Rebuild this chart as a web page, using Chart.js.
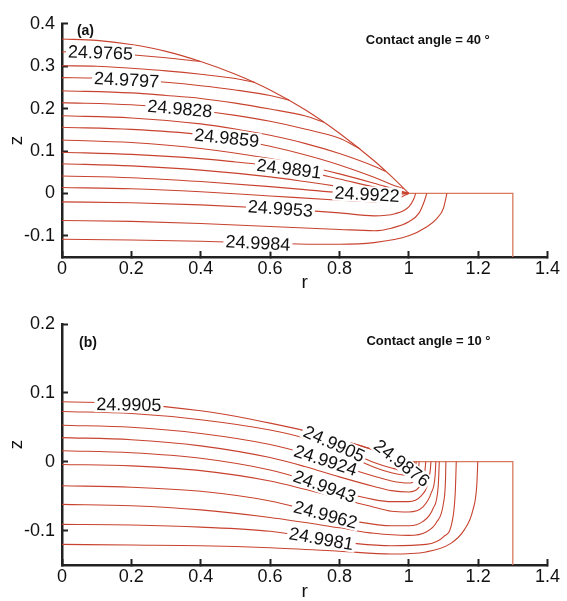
<!DOCTYPE html>
<html>
<head>
<meta charset="utf-8">
<script src="https://cdn.jsdelivr.net/npm/chart.js@4/dist/chart.umd.min.js"></script>
<style>
  html, body { margin: 0; padding: 0; background: #fff; }
  #wrap { position: relative; width: 567px; height: 601px; }
  canvas { position: absolute; left: 0; }
  #ca { top: 0; }
  #cb { top: 300px; }
</style>
</head>
<body>
<div id="wrap">
  <canvas id="ca" width="567" height="300" style="width:567px;height:300px"></canvas>
  <canvas id="cb" width="567" height="301" style="width:567px;height:301px"></canvas>
</div>
<script>
// ---------- axis ticks ----------
const xTicks  = [0, 0.2, 0.4, 0.6, 0.8, 1, 1.2, 1.4];
const yTicksA = [-0.1, 0, 0.1, 0.2, 0.3, 0.4];
const yTicksB = [-0.1, 0, 0.1, 0.2];

// ---------- (a) contact angle 40 deg : [r, z] ----------
const surfaceA   = [[0,0.364],[0.1,0.361],[0.2,0.351],[0.3,0.335],[0.4,0.311],[0.5,0.281],[0.6,0.244],[0.7,0.198],[0.8,0.142],[0.9,0.077],[0.95,0.040],[1.0,0]];
const substrateA = [[1.0,0],[1.3,0],[1.3,-0.15]];
const a01 = [[0,0.334],[0.1,0.332],[0.2,0.327],[0.3,0.320],[0.4,0.311]];
const a02 = [[0,0.301],[0.1,0.300],[0.2,0.295],[0.3,0.289],[0.4,0.281],[0.5,0.271],[0.555,0.262]];
const a03 = [[0,0.273],[0.1,0.272],[0.2,0.268],[0.3,0.262],[0.4,0.254],[0.5,0.244],[0.6,0.231],[0.655,0.220]];
const a04 = [[0,0.242],[0.2,0.237],[0.3,0.231],[0.4,0.224],[0.5,0.213],[0.6,0.199],[0.7,0.183],[0.755,0.168]];
const a05 = [[0,0.214],[0.2,0.209],[0.3,0.203],[0.4,0.195],[0.5,0.184],[0.6,0.170],[0.7,0.152],[0.8,0.130],[0.86,0.105]];
const a06 = [[0,0.183],[0.2,0.178],[0.4,0.164],[0.5,0.152],[0.6,0.137],[0.7,0.118],[0.8,0.094],[0.9,0.064],[0.932,0.052]];
const a07 = [[0,0.156],[0.2,0.151],[0.4,0.139],[0.5,0.127],[0.6,0.111],[0.7,0.091],[0.8,0.067],[0.9,0.038],[0.95,0.021],[0.985,0.011]];
const a08 = [[0,0.126],[0.2,0.120],[0.4,0.106],[0.6,0.082],[0.7,0.066],[0.8,0.046],[0.9,0.024],[0.95,0.012],[1.0,0]];
const a09 = [[0,0.097],[0.2,0.092],[0.4,0.082],[0.5,0.074],[0.6,0.065],[0.7,0.052],[0.8,0.034],[0.9,0.015],[0.95,0.007],[1.0,0]];
const a10 = [[0,0.070],[0.2,0.065],[0.4,0.055],[0.6,0.039],[0.7,0.028],[0.8,0.016],[0.9,0.005],[0.95,0.001],[1.0,0]];
const a11 = [[0,0.041],[0.2,0.037],[0.4,0.028],[0.6,0.016],[0.7,0.009],[0.8,0.002],[0.88,-0.002],[0.95,-0.003],[1.0,0]];
const a12 = [[0,0.014],[0.2,0.011],[0.4,0.004],[0.6,-0.006],[0.8,-0.016],[0.9,-0.020],[0.95,-0.016],[0.98,-0.008],[1.0,0]];
const a13 = [[0,-0.020],[0.2,-0.022],[0.4,-0.027],[0.6,-0.035],[0.7,-0.040],[0.8,-0.046],[0.9,-0.053],[0.96,-0.048],[1.0,-0.032],[1.015,-0.012],[1.02,0]];
const a14 = [[0,-0.064],[0.2,-0.066],[0.4,-0.071],[0.6,-0.078],[0.8,-0.085],[0.9,-0.088],[0.95,-0.082],[1.0,-0.067],[1.03,-0.046],[1.045,-0.018],[1.052,0]];
const a15 = [[0,-0.108],[0.2,-0.110],[0.4,-0.113],[0.6,-0.118],[0.8,-0.120],[0.9,-0.116],[1.0,-0.100],[1.05,-0.080],[1.08,-0.060],[1.10,-0.035],[1.11,0]];

const levelTextA  = ['24.9765','24.9797','24.9828','24.9859','24.9891','24.9922','24.9953','24.9984'];
const levelPosA   = [[0.111,0.332],[0.186,0.268],[0.34,0.200],[0.475,0.131],[0.655,0.058],[0.88,-0.002],[0.63,-0.036],[0.565,-0.117]];
const levelAngleA = [2, 3, 5, 6, 7, 3, 4, 3];

// ---------- (b) contact angle 10 deg : [r, z] ----------
const surfaceB   = [[0,0.087],[0.2,0.084],[0.4,0.074],[0.5,0.066],[0.6,0.056],[0.7,0.045],[0.8,0.032],[0.9,0.017],[1.0,0]];
const substrateB = [[1.0,0],[1.3,0],[1.3,-0.15]];
const bA  = [[0.83,0.028],[0.9,0.017],[0.95,0.007],[0.98,-0.002],[1.0,-0.007],[1.008,-0.004],[1.012,0]];
const bB  = [[0.69,0.046],[0.75,0.035],[0.8,0.022],[0.85,0.010],[0.9,-0.001],[0.95,-0.009],[0.99,-0.013],[1.01,-0.008],[1.018,0]];
const b02 = [[0,0.073],[0.2,0.070],[0.4,0.061],[0.6,0.046],[0.7,0.034],[0.8,0.015],[0.9,-0.008],[0.95,-0.016],[1.0,-0.020],[1.015,-0.013],[1.022,0]];
const b03 = [[0,0.053],[0.2,0.050],[0.4,0.041],[0.6,0.025],[0.7,0.012],[0.76,0.002],[0.8,-0.005],[0.9,-0.021],[0.95,-0.028],[1.0,-0.031],[1.02,-0.024],[1.028,-0.010],[1.03,0]];
const b04 = [[0,0.035],[0.2,0.032],[0.4,0.023],[0.6,0.006],[0.7,-0.007],[0.8,-0.022],[0.9,-0.036],[0.95,-0.042],[1.0,-0.044],[1.03,-0.037],[1.045,-0.020],[1.049,0]];
const b05 = [[0,0.016],[0.2,0.013],[0.4,0.005],[0.6,-0.012],[0.7,-0.026],[0.757,-0.036],[0.8,-0.043],[0.9,-0.055],[0.95,-0.058],[1.0,-0.058],[1.035,-0.050],[1.055,-0.032],[1.062,-0.012],[1.064,0]];
const b06 = [[0,-0.004],[0.2,-0.006],[0.4,-0.013],[0.6,-0.028],[0.7,-0.040],[0.8,-0.053],[0.9,-0.066],[0.95,-0.072],[1.0,-0.073],[1.04,-0.066],[1.065,-0.045],[1.076,-0.020],[1.078,0]];
const b07 = [[0,-0.035],[0.2,-0.037],[0.4,-0.043],[0.6,-0.057],[0.7,-0.069],[0.76,-0.077],[0.85,-0.087],[0.95,-0.093],[1.0,-0.093],[1.04,-0.087],[1.07,-0.068],[1.085,-0.035],[1.088,0]];
const b08 = [[0,-0.062],[0.2,-0.064],[0.4,-0.070],[0.6,-0.081],[0.8,-0.096],[0.9,-0.104],[1.0,-0.107],[1.05,-0.102],[1.08,-0.088],[1.1,-0.060],[1.106,-0.025],[1.107,0]];
const b09 = [[0,-0.091],[0.2,-0.092],[0.4,-0.095],[0.6,-0.101],[0.748,-0.112],[0.85,-0.119],[0.95,-0.122],[1.05,-0.120],[1.1,-0.109],[1.125,-0.087],[1.134,-0.045],[1.137,0]];
const b10 = [[0,-0.120],[0.2,-0.121],[0.4,-0.122],[0.6,-0.125],[0.8,-0.130],[0.95,-0.134],[1.05,-0.131],[1.12,-0.119],[1.16,-0.099],[1.185,-0.070],[1.196,-0.035],[1.199,0]];

const levelTextB  = ['24.9905','24.9905','24.9876','24.9924','24.9943','24.9962','24.9981'];
const levelPosB   = [[0.193,0.083],[0.785,0.026],[0.98,-0.002],[0.76,0.002],[0.757,-0.036],[0.76,-0.077],[0.748,-0.112]];
const levelAngleB = [1, 24, 38, 18, 20, 15, 10];

const notesA = [{ text: '(a)', r: 0.043, z: 0.382, size: 14 }, { text: 'Contact angle = 40 °', r: 0.876, z: 0.361, size: 13 }];
const notesB = [{ text: '(b)', r: 0.049, z: 0.172, size: 14 }, { text: 'Contact angle = 10 °', r: 0.878, z: 0.174, size: 13 }];

// ---------- drawing helpers ----------
const LINE = '#c8432f';
const WALL = '#d8785c';
const FONT = '"Liberation Sans", Arial, Helvetica, sans-serif';

function toXY(pts) { return pts.map(p => ({ x: p[0], y: p[1] })); }

function lineSet(pts, color, width) {
  return {
    data: toXY(pts),
    showLine: true,
    borderColor: color,
    borderWidth: width,
    pointRadius: 0,
    fill: false,
    cubicInterpolationMode: 'monotone'
  };
}

// contour level labels (white box breaks the line) and panel notes
function labelPlugin(id, texts, pos, angles, notes) {
  return {
    id: id,
    afterDatasetsDraw(chart) {
      const ctx = chart.ctx;
      const sx = chart.scales.x, sy = chart.scales.y;
      ctx.save();
      ctx.font = '18px ' + FONT;
      ctx.textAlign = 'center';
      ctx.textBaseline = 'middle';
      texts.forEach((t, i) => {
        const px = sx.getPixelForValue(pos[i][0]);
        const py = sy.getPixelForValue(pos[i][1]);
        ctx.save();
        ctx.translate(px, py);
        ctx.rotate(angles[i] * Math.PI / 180);
        const w = ctx.measureText(t).width;
        ctx.fillStyle = '#fff';
        ctx.fillRect(-w / 2 - 2, -8, w + 4, 16);
        ctx.fillStyle = '#111';
        ctx.fillText(t, 0, 1);
        ctx.restore();
      });
      ctx.textAlign = 'left';
      notes.forEach(n => {
        ctx.font = 'bold ' + n.size + 'px ' + FONT;
        ctx.fillStyle = '#111';
        ctx.fillText(n.text, sx.getPixelForValue(n.r), sy.getPixelForValue(n.z));
      });
      ctx.restore();
    }
  };
}

function fmt(v) { return String(Math.round(v * 10) / 10); }

function axisCommon(tickList, min, max, titleText, isX, tickPad, titlePad, boxSize) {
  return {
    type: 'linear',
    position: isX ? 'bottom' : 'left',
    min: min,
    max: max,
    afterBuildTicks: s => { s.ticks = tickList.map(v => ({ value: v })); },
    afterFit: s => { if (isX) s.height = boxSize; else s.width = boxSize; },
    ticks: {
      callback: v => fmt(v),
      font: { family: FONT, size: 18 },
      color: '#111',
      padding: tickPad,
      maxRotation: 0,
      autoSkip: false
    },
    grid: {
      display: true,
      drawOnChartArea: false,
      drawTicks: true,
      tickLength: -6,
      tickWidth: 2,
      tickColor: '#222'
    },
    border: { display: true, color: '#222', width: 2.5 },
    title: {
      display: true,
      text: titleText,
      font: { family: FONT, size: 19, lineHeight: 1 },
      color: '#111',
      padding: titlePad
    }
  };
}

function makeChart(canvasId, sets, yMin, yMax, yTicks, pad, xBox, xTitlePad, plugin) {
  return new Chart(document.getElementById(canvasId), {
    type: 'scatter',
    data: { datasets: sets },
    options: {
      responsive: false,
      animation: false,
      events: [],
      layout: { padding: pad },
      plugins: { legend: { display: false }, tooltip: { enabled: false } },
      scales: {
        x: axisCommon(xTicks, 0, 1.4, 'r', true, 7, xTitlePad, xBox),
        y: axisCommon(yTicks, yMin, yMax, 'z', false, 13, { top: 7, bottom: 0 }, 62)
      }
    },
    plugins: [plugin]
  });
}

const setsA = [surfaceA, a01, a02, a03, a04, a05, a06, a07, a08, a09, a10, a11, a12, a13, a14, a15]
  .map(p => lineSet(p, LINE, 1.1)).concat([lineSet(substrateA, WALL, 1.3)]);
const setsB = [surfaceB, bA, bB, b02, b03, b04, b05, b06, b07, b08, b09, b10]
  .map(p => lineSet(p, LINE, 1.1)).concat([lineSet(substrateB, WALL, 1.3)]);

makeChart('ca', setsA, -0.15, 0.4, yTicksA, { top: 18, right: 19, left: 0, bottom: 0 }, 43,
  { top: 0, bottom: 8 }, labelPlugin('labelsA', levelTextA, levelPosA, levelAngleA, notesA));
makeChart('cb', setsB, -0.15, 0.2, yTicksB, { top: 24, right: 18, left: 0, bottom: 0 }, 36,
  { top: 0, bottom: 0 }, labelPlugin('labelsB', levelTextB, levelPosB, levelAngleB, notesB));
</script>
</body>
</html>
